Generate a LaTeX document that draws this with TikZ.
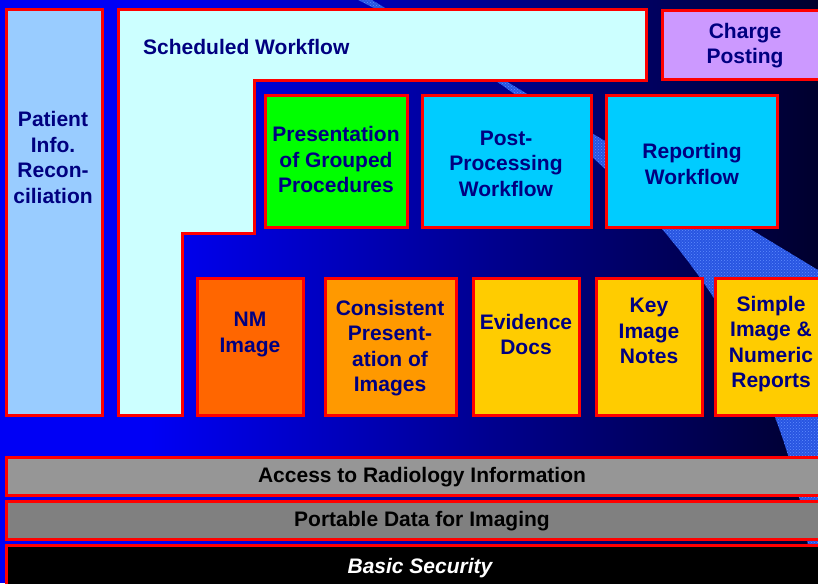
\documentclass[tikz,border=0pt]{standalone}
\usepackage{fontspec}
\setmainfont{Liberation Sans}
\usepackage{tikz}
\usetikzlibrary{patterns}
\definecolor{navytext}{RGB}{0,0,128}
\definecolor{bgblue}{RGB}{0,0,245}
\definecolor{bgdark}{RGB}{0,0,45}
\definecolor{bandblue}{RGB}{40,85,225}
\definecolor{banddots}{RGB}{95,140,255}
\definecolor{patcol}{RGB}{153,204,255}
\definecolor{schedcol}{RGB}{204,255,255}
\definecolor{chargecol}{RGB}{204,153,255}
\definecolor{greencol}{RGB}{0,255,0}
\definecolor{cyancol}{RGB}{0,204,255}
\definecolor{nmcol}{RGB}{255,102,0}
\definecolor{conscol}{RGB}{255,153,0}
\definecolor{yellowcol}{RGB}{255,204,0}
\definecolor{lightgray}{RGB}{150,150,150}
\definecolor{darkgray}{RGB}{128,128,128}

\begin{document}
\begin{tikzpicture}[x=1pt,y=-1pt]
% Define styles
\tikzstyle{box} = [rectangle, draw=red, line width=3pt, inner sep=0pt]
\tikzstyle{txt} = [align=center, text=navytext, inner sep=0pt, yshift=-1.5pt, font=\bfseries\fontsize{21}{25.5}\selectfont]
\tikzstyle{bartxt} = [txt, text=black]
\useasboundingbox (0,0) rectangle (818,583);
% Background
\fill[bgblue] (0,0) rectangle (818,583);
\shade[left color=bgblue, right color=bgdark] (150,0) rectangle (818,583);
\fill[bandblue, postaction={pattern=crosshatch dots, pattern color=banddots}]
  (358,0) -- (372,0) -- (818,270) -- (818,583) -- (812,583)
  .. controls (790,300) and (580,110) .. (358,0) -- cycle;
% Define nodes
\node[box, fill=patcol, minimum width=96pt, minimum height=405pt] (pat) at (54,212.5) {};
\node[txt] (pattxt) at (53,156) {Patient\\Info.\\Recon-\\ciliation};
\draw[box, fill=schedcol] (118,10) -- (646,10) -- (646,81) -- (254,81) -- (254,233)
  -- (182,233) -- (182,415) -- (118,415) -- cycle;
\node[txt, anchor=west] (schedtxt) at (143,45) {Scheduled Workflow};
\node[box, fill=chargecol, minimum width=166pt, minimum height=69pt] (charge) at (745,45.5) {};
\node[txt] (chargetxt) at (745,44) {Charge\\Posting};
\node[box, fill=greencol, minimum width=142pt, minimum height=131pt] (pgp) at (336,161.5) {};
\node[txt] (pgptxt) at (336,158) {Presentation\\of Grouped\\Procedures};
\node[box, fill=cyancol, minimum width=169pt, minimum height=131pt] (post) at (506.5,161.5) {};
\node[txt] (posttxt) at (506,162) {Post-\\Processing\\Workflow};
\node[box, fill=cyancol, minimum width=171pt, minimum height=131pt] (rep) at (691.5,161.5) {};
\node[txt] (reptxt) at (692,162.5) {Reporting\\Workflow};
\node[box, fill=nmcol, minimum width=106pt, minimum height=137pt] (nm) at (250,347) {};
\node[txt] (nmtxt) at (250,333) {NM\\Image};
\node[box, fill=conscol, minimum width=131pt, minimum height=137pt] (cons) at (390.5,347) {};
\node[txt] (constxt) at (390,346.5) {Consistent\\Present-\\ation of\\Images};
\node[box, fill=yellowcol, minimum width=106pt, minimum height=137pt] (evid) at (526,347) {};
\node[txt] (evidtxt) at (526,333) {Evidence\\Docs};
\node[box, fill=yellowcol, minimum width=106pt, minimum height=137pt] (key) at (649,347) {};
\node[txt] (keytxt) at (649,329.5) {Key\\Image\\Notes};
\node[box, fill=yellowcol, minimum width=112pt, minimum height=137pt] (simple) at (771,347) {};
\node[txt] (simpletxt) at (771,342.5) {Simple\\Image \&\\Numeric\\Reports};
% Bottom bars
\node[box, fill=lightgray, minimum width=824pt, minimum height=38pt] (access) at (418,476) {};
\node[bartxt] (accesstxt) at (422,476) {Access to Radiology Information};
\node[box, fill=darkgray, minimum width=824pt, minimum height=38pt] (pdi) at (418,520) {};
\node[bartxt] (pditxt) at (422,520) {Portable Data for Imaging};
\node[box, fill=black, minimum width=824pt, minimum height=45pt] (sec) at (418,567.5) {};
\node[bartxt, text=white, font=\bfseries\itshape\fontsize{21}{25.5}\selectfont] (sectxt) at (420,567) {Basic Security};
\end{tikzpicture}
\end{document}
